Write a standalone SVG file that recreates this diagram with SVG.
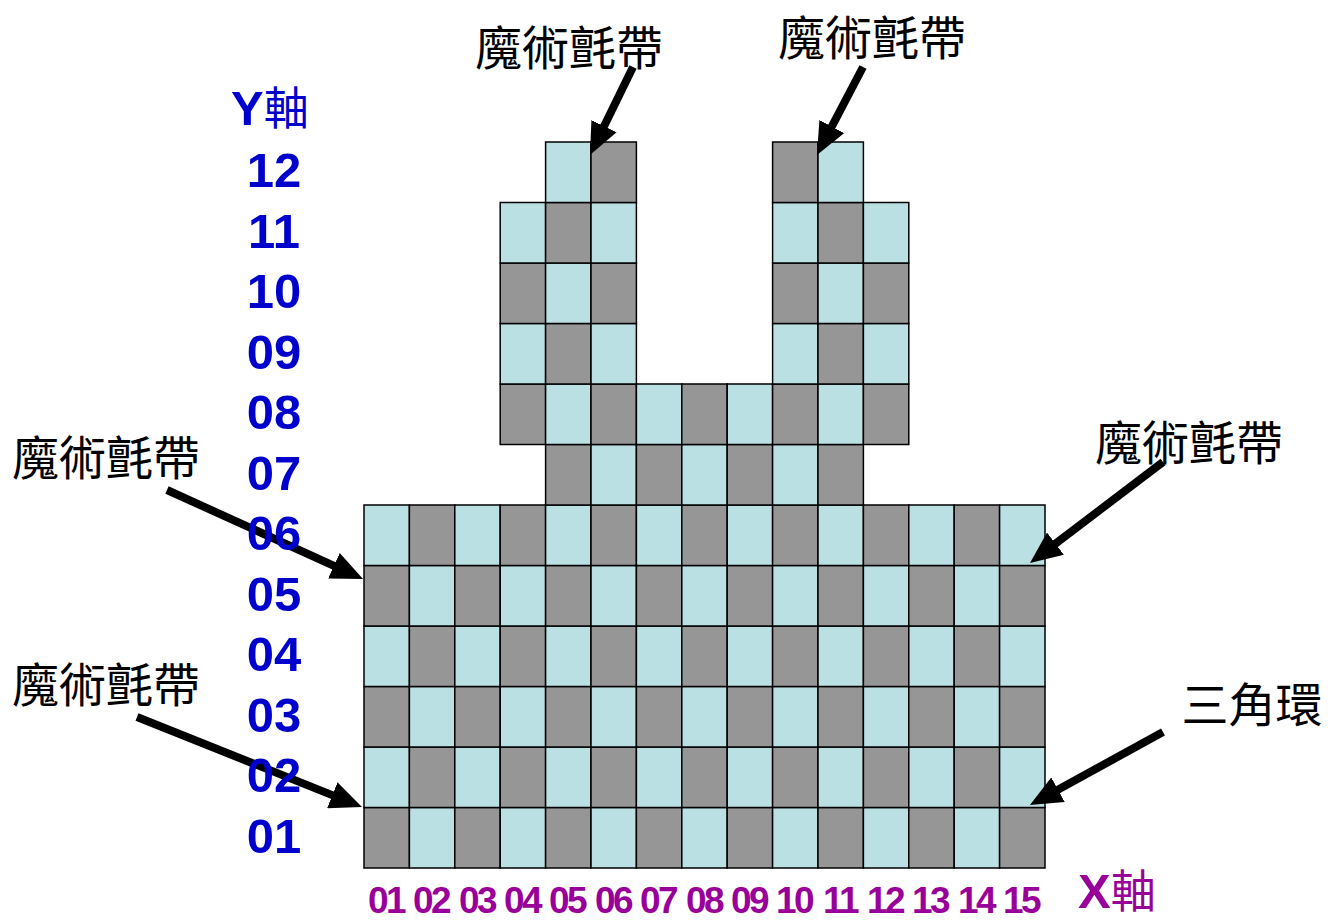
<svg xmlns="http://www.w3.org/2000/svg" width="1341" height="921" viewBox="0 0 1341 921">
<style>
.g{fill:#969696;stroke:#000;stroke-width:1.5}
.l{fill:#BBE0E3;stroke:#000;stroke-width:1.5}
.cn{font-family:"Noto Sans CJK TC","Noto Sans CJK SC",sans-serif;font-size:47px;fill:#000;text-anchor:middle}
.y{font-family:"Liberation Sans","Noto Sans CJK TC",sans-serif;font-weight:bold;font-size:49px;fill:#0000CC;text-anchor:middle}
.x{font-family:"Liberation Sans","Noto Sans CJK TC",sans-serif;font-weight:bold;font-size:37px;fill:#990099;text-anchor:middle;letter-spacing:-2.5px}
.ax{font-family:"Liberation Sans","Noto Sans CJK TC",sans-serif;font-weight:bold;font-size:49px}
.axc{font-family:"Noto Sans CJK TC",sans-serif;font-weight:normal;font-size:45px}
.arr{stroke:#000;stroke-width:8;fill:none;marker-end:url(#ah)}
</style>
<defs>
<marker id="ah" markerUnits="userSpaceOnUse" markerWidth="32" markerHeight="28" viewBox="0 0 32 28" refX="8" refY="14" orient="auto">
<path d="M0,0 L32,14 L0,28 z" fill="#000"/>
</marker>
</defs>
<rect width="1341" height="921" fill="#fff"/>
<g id="grid">
<!-- row 1 -->
<rect class="g" x="364" y="807.5" width="45.4" height="60.5"/><rect class="l" x="409.4" y="807.5" width="45.4" height="60.5"/><rect class="g" x="454.8" y="807.5" width="45.4" height="60.5"/><rect class="l" x="500.2" y="807.5" width="45.4" height="60.5"/><rect class="g" x="545.6" y="807.5" width="45.4" height="60.5"/><rect class="l" x="591" y="807.5" width="45.4" height="60.5"/><rect class="g" x="636.4" y="807.5" width="45.4" height="60.5"/><rect class="l" x="681.8" y="807.5" width="45.4" height="60.5"/><rect class="g" x="727.2" y="807.5" width="45.4" height="60.5"/><rect class="l" x="772.6" y="807.5" width="45.4" height="60.5"/><rect class="g" x="818" y="807.5" width="45.4" height="60.5"/><rect class="l" x="863.4" y="807.5" width="45.4" height="60.5"/><rect class="g" x="908.8" y="807.5" width="45.4" height="60.5"/><rect class="l" x="954.2" y="807.5" width="45.4" height="60.5"/><rect class="g" x="999.6" y="807.5" width="45.4" height="60.5"/>
<!-- row 2 -->
<rect class="l" x="364" y="747" width="45.4" height="60.5"/><rect class="g" x="409.4" y="747" width="45.4" height="60.5"/><rect class="l" x="454.8" y="747" width="45.4" height="60.5"/><rect class="g" x="500.2" y="747" width="45.4" height="60.5"/><rect class="l" x="545.6" y="747" width="45.4" height="60.5"/><rect class="g" x="591" y="747" width="45.4" height="60.5"/><rect class="l" x="636.4" y="747" width="45.4" height="60.5"/><rect class="g" x="681.8" y="747" width="45.4" height="60.5"/><rect class="l" x="727.2" y="747" width="45.4" height="60.5"/><rect class="g" x="772.6" y="747" width="45.4" height="60.5"/><rect class="l" x="818" y="747" width="45.4" height="60.5"/><rect class="g" x="863.4" y="747" width="45.4" height="60.5"/><rect class="l" x="908.8" y="747" width="45.4" height="60.5"/><rect class="g" x="954.2" y="747" width="45.4" height="60.5"/><rect class="l" x="999.6" y="747" width="45.4" height="60.5"/>
<!-- row 3 -->
<rect class="g" x="364" y="686.5" width="45.4" height="60.5"/><rect class="l" x="409.4" y="686.5" width="45.4" height="60.5"/><rect class="g" x="454.8" y="686.5" width="45.4" height="60.5"/><rect class="l" x="500.2" y="686.5" width="45.4" height="60.5"/><rect class="g" x="545.6" y="686.5" width="45.4" height="60.5"/><rect class="l" x="591" y="686.5" width="45.4" height="60.5"/><rect class="g" x="636.4" y="686.5" width="45.4" height="60.5"/><rect class="l" x="681.8" y="686.5" width="45.4" height="60.5"/><rect class="g" x="727.2" y="686.5" width="45.4" height="60.5"/><rect class="l" x="772.6" y="686.5" width="45.4" height="60.5"/><rect class="g" x="818" y="686.5" width="45.4" height="60.5"/><rect class="l" x="863.4" y="686.5" width="45.4" height="60.5"/><rect class="g" x="908.8" y="686.5" width="45.4" height="60.5"/><rect class="l" x="954.2" y="686.5" width="45.4" height="60.5"/><rect class="g" x="999.6" y="686.5" width="45.4" height="60.5"/>
<!-- row 4 -->
<rect class="l" x="364" y="626" width="45.4" height="60.5"/><rect class="g" x="409.4" y="626" width="45.4" height="60.5"/><rect class="l" x="454.8" y="626" width="45.4" height="60.5"/><rect class="g" x="500.2" y="626" width="45.4" height="60.5"/><rect class="l" x="545.6" y="626" width="45.4" height="60.5"/><rect class="g" x="591" y="626" width="45.4" height="60.5"/><rect class="l" x="636.4" y="626" width="45.4" height="60.5"/><rect class="g" x="681.8" y="626" width="45.4" height="60.5"/><rect class="l" x="727.2" y="626" width="45.4" height="60.5"/><rect class="g" x="772.6" y="626" width="45.4" height="60.5"/><rect class="l" x="818" y="626" width="45.4" height="60.5"/><rect class="g" x="863.4" y="626" width="45.4" height="60.5"/><rect class="l" x="908.8" y="626" width="45.4" height="60.5"/><rect class="g" x="954.2" y="626" width="45.4" height="60.5"/><rect class="l" x="999.6" y="626" width="45.4" height="60.5"/>
<!-- row 5 -->
<rect class="g" x="364" y="565.5" width="45.4" height="60.5"/><rect class="l" x="409.4" y="565.5" width="45.4" height="60.5"/><rect class="g" x="454.8" y="565.5" width="45.4" height="60.5"/><rect class="l" x="500.2" y="565.5" width="45.4" height="60.5"/><rect class="g" x="545.6" y="565.5" width="45.4" height="60.5"/><rect class="l" x="591" y="565.5" width="45.4" height="60.5"/><rect class="g" x="636.4" y="565.5" width="45.4" height="60.5"/><rect class="l" x="681.8" y="565.5" width="45.4" height="60.5"/><rect class="g" x="727.2" y="565.5" width="45.4" height="60.5"/><rect class="l" x="772.6" y="565.5" width="45.4" height="60.5"/><rect class="g" x="818" y="565.5" width="45.4" height="60.5"/><rect class="l" x="863.4" y="565.5" width="45.4" height="60.5"/><rect class="g" x="908.8" y="565.5" width="45.4" height="60.5"/><rect class="l" x="954.2" y="565.5" width="45.4" height="60.5"/><rect class="g" x="999.6" y="565.5" width="45.4" height="60.5"/>
<!-- row 6 -->
<rect class="l" x="364" y="505" width="45.4" height="60.5"/><rect class="g" x="409.4" y="505" width="45.4" height="60.5"/><rect class="l" x="454.8" y="505" width="45.4" height="60.5"/><rect class="g" x="500.2" y="505" width="45.4" height="60.5"/><rect class="l" x="545.6" y="505" width="45.4" height="60.5"/><rect class="g" x="591" y="505" width="45.4" height="60.5"/><rect class="l" x="636.4" y="505" width="45.4" height="60.5"/><rect class="g" x="681.8" y="505" width="45.4" height="60.5"/><rect class="l" x="727.2" y="505" width="45.4" height="60.5"/><rect class="g" x="772.6" y="505" width="45.4" height="60.5"/><rect class="l" x="818" y="505" width="45.4" height="60.5"/><rect class="g" x="863.4" y="505" width="45.4" height="60.5"/><rect class="l" x="908.8" y="505" width="45.4" height="60.5"/><rect class="g" x="954.2" y="505" width="45.4" height="60.5"/><rect class="l" x="999.6" y="505" width="45.4" height="60.5"/>
<!-- row 7 -->
<rect class="g" x="545.6" y="444.5" width="45.4" height="60.5"/><rect class="l" x="591" y="444.5" width="45.4" height="60.5"/><rect class="g" x="636.4" y="444.5" width="45.4" height="60.5"/><rect class="l" x="681.8" y="444.5" width="45.4" height="60.5"/><rect class="g" x="727.2" y="444.5" width="45.4" height="60.5"/><rect class="l" x="772.6" y="444.5" width="45.4" height="60.5"/><rect class="g" x="818" y="444.5" width="45.4" height="60.5"/>
<!-- row 8 -->
<rect class="g" x="500.2" y="384" width="45.4" height="60.5"/><rect class="l" x="545.6" y="384" width="45.4" height="60.5"/><rect class="g" x="591" y="384" width="45.4" height="60.5"/><rect class="l" x="636.4" y="384" width="45.4" height="60.5"/><rect class="g" x="681.8" y="384" width="45.4" height="60.5"/><rect class="l" x="727.2" y="384" width="45.4" height="60.5"/><rect class="g" x="772.6" y="384" width="45.4" height="60.5"/><rect class="l" x="818" y="384" width="45.4" height="60.5"/><rect class="g" x="863.4" y="384" width="45.4" height="60.5"/>
<!-- row 9 -->
<rect class="l" x="500.2" y="323.5" width="45.4" height="60.5"/><rect class="g" x="545.6" y="323.5" width="45.4" height="60.5"/><rect class="l" x="591" y="323.5" width="45.4" height="60.5"/><rect class="l" x="772.6" y="323.5" width="45.4" height="60.5"/><rect class="g" x="818" y="323.5" width="45.4" height="60.5"/><rect class="l" x="863.4" y="323.5" width="45.4" height="60.5"/>
<!-- row 10 -->
<rect class="g" x="500.2" y="263" width="45.4" height="60.5"/><rect class="l" x="545.6" y="263" width="45.4" height="60.5"/><rect class="g" x="591" y="263" width="45.4" height="60.5"/><rect class="g" x="772.6" y="263" width="45.4" height="60.5"/><rect class="l" x="818" y="263" width="45.4" height="60.5"/><rect class="g" x="863.4" y="263" width="45.4" height="60.5"/>
<!-- row 11 -->
<rect class="l" x="500.2" y="202.5" width="45.4" height="60.5"/><rect class="g" x="545.6" y="202.5" width="45.4" height="60.5"/><rect class="l" x="591" y="202.5" width="45.4" height="60.5"/><rect class="l" x="772.6" y="202.5" width="45.4" height="60.5"/><rect class="g" x="818" y="202.5" width="45.4" height="60.5"/><rect class="l" x="863.4" y="202.5" width="45.4" height="60.5"/>
<!-- row 12 -->
<rect class="l" x="545.6" y="142" width="45.4" height="60.5"/><rect class="g" x="591" y="142" width="45.4" height="60.5"/><rect class="g" x="772.6" y="142" width="45.4" height="60.5"/><rect class="l" x="818" y="142" width="45.4" height="60.5"/>
</g>
<g id="connectors">
<line class="arr" x1="633" y1="67" x2="600.5" y2="133.4"/>
<line class="arr" x1="863" y1="67" x2="828.1" y2="133.7"/>
<line class="arr" x1="167" y1="490" x2="341.2" y2="569.1"/>
<line class="arr" x1="137" y1="717" x2="339.7" y2="798.1"/>
<line class="arr" x1="1163" y1="462" x2="1049.1" y2="548.5"/>
<line class="arr" x1="1163" y1="732" x2="1051" y2="793.5"/>
</g>
<g id="y-axis">
<text class="ax" x="231" y="125" fill="#0000CC">Y<tspan class="axc">軸</tspan></text>
<text class="y" x="274" y="187">12</text>
<text class="y" x="274" y="248">11</text>
<text class="y" x="274" y="308">10</text>
<text class="y" x="274" y="369">09</text>
<text class="y" x="274" y="429">08</text>
<text class="y" x="274" y="490">07</text>
<text class="y" x="274" y="550">06</text>
<text class="y" x="274" y="611">05</text>
<text class="y" x="274" y="671">04</text>
<text class="y" x="274" y="732">03</text>
<text class="y" x="274" y="792">02</text>
<text class="y" x="274" y="853">01</text>
</g>
<g id="x-axis">
<text class="x" x="386" y="913">01</text>
<text class="x" x="431" y="913">02</text>
<text class="x" x="477" y="913">03</text>
<text class="x" x="522" y="913">04</text>
<text class="x" x="567" y="913">05</text>
<text class="x" x="613" y="913">06</text>
<text class="x" x="658" y="913">07</text>
<text class="x" x="704" y="913">08</text>
<text class="x" x="749" y="913">09</text>
<text class="x" x="794" y="913">10</text>
<text class="x" x="840" y="913">11</text>
<text class="x" x="885" y="913">12</text>
<text class="x" x="930" y="913">13</text>
<text class="x" x="976" y="913">14</text>
<text class="x" x="1021" y="913">15</text>
<text class="ax" x="1078" y="908" fill="#990099">X<tspan class="axc">軸</tspan></text>
</g>
<g id="label-top-left"><text class="cn" x="569" y="65">魔術氈帶</text></g>
<g id="label-top-right"><text class="cn" x="872" y="55">魔術氈帶</text></g>
<g id="label-left-upper"><text class="cn" x="106" y="475">魔術氈帶</text></g>
<g id="label-left-lower"><text class="cn" x="106" y="702">魔術氈帶</text></g>
<g id="label-right-upper"><text class="cn" x="1189" y="460">魔術氈帶</text></g>
<g id="label-right-lower"><text class="cn" x="1252" y="722">三角環</text></g>
</svg>
